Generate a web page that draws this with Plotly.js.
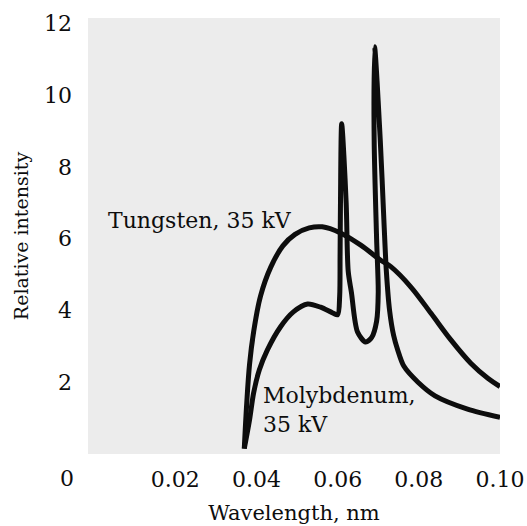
<!DOCTYPE html>
<html>
<head>
<meta charset="utf-8">
<script src="https://cdn.plot.ly/plotly-3.0.1.min.js"></script>
<style>
  html, body { margin: 0; padding: 0; background: #ffffff; }
  #chart { width: 527px; height: 526px; }
</style>
</head>
<body>
<div id="chart"></div>
<script>
// Wavelength (nm) and relative intensity
const tungstenWavelength = [0.0370, 0.0376, 0.0383, 0.0393, 0.0410, 0.0435, 0.0465, 0.0495, 0.0530, 0.0562, 0.0607, 0.0657, 0.0706, 0.0731, 0.0780, 0.0830, 0.0879, 0.0928, 0.0970, 0.1000];
const tungstenIntensity  = [0.15,   1.40,   2.50,   3.40,   4.40,   5.20,   5.80,   6.12,   6.30,   6.33,   6.16,   5.82,   5.40,   5.22,   4.66,   3.92,   3.18,   2.53,   2.11,   1.88];

const molybdenumWavelength = [0.0370, 0.0383, 0.0393, 0.0407, 0.0427, 0.0459, 0.0491, 0.0526, 0.0558, 0.0588, 0.0600, 0.0605, 0.0606, 0.0607, 0.0610, 0.0621, 0.0626, 0.0634, 0.0649, 0.0669, 0.0684, 0.0696, 0.0700, 0.0696, 0.0690, 0.0691, 0.0705, 0.0714, 0.0720, 0.0728, 0.0738, 0.0748, 0.0763, 0.0798, 0.0840, 0.0920, 0.1000];
const molybdenumIntensity  = [0.15,   0.95,   1.70,   2.34,   2.90,   3.54,   3.96,   4.18,   4.09,   3.93,   3.88,   4.40,   5.50,   7.00,   9.20,   7.00,   5.10,   4.50,   3.40,   3.12,   3.25,   3.70,   4.50,   6.00,   8.75,   11.35,  8.75,   6.50,   5.10,   4.00,   3.30,   2.90,   2.45,   2.00,   1.62,   1.25,   1.02];

const xTickValues = [0.02, 0.04, 0.06, 0.08, 0.10];
const xTickLabels = ['0.02', '0.04', '0.06', '0.08', '0.10'];
const yTickValues = [2, 4, 6, 8, 10, 12];
const yTickLabels = ['2', '4', '6', '8', '10', '12'];
const originLabel = '0';

const seriesNames = ['Tungsten, 35 kV', 'Molybdenum,<br>35 kV'];

const SERIF = '"DejaVu Serif", "Liberation Serif", serif';
const INK = '#0d0d0d';

const traces = [
  {
    x: tungstenWavelength, y: tungstenIntensity,
    type: 'scatter', mode: 'lines', name: 'Tungsten',
    line: { color: INK, width: 5, shape: 'spline', smoothing: 1.0 },
    hoverinfo: 'skip'
  },
  {
    x: molybdenumWavelength, y: molybdenumIntensity,
    type: 'scatter', mode: 'lines', name: 'Molybdenum',
    line: { color: INK, width: 5, shape: 'spline', smoothing: 0.8 },
    hoverinfo: 'skip'
  }
];

const layout = {
  width: 527, height: 526,
  margin: { l: 88, r: 27, t: 18, b: 72 },
  paper_bgcolor: '#ffffff',
  plot_bgcolor: '#ececec',
  showlegend: false,
  font: { family: SERIF, color: INK },
  xaxis: {
    range: [-0.0015, 0.1],
    tickvals: xTickValues, ticktext: xTickLabels,
    showgrid: false, zeroline: false, showline: false, ticks: '',
    ticklabelstandoff: 10,
    tickfont: { family: SERIF, size: 22, color: INK },
    title: { text: 'Wavelength, nm', font: { family: SERIF, size: 21, color: INK }, standoff: 14 }
  },
  yaxis: {
    range: [0, 12.15],
    tickvals: yTickValues, ticktext: yTickLabels,
    showgrid: false, zeroline: false, showline: false, ticks: '',
    ticklabelstandoff: 15,
    tickfont: { family: SERIF, size: 22, color: INK },
    title: { text: 'Relative intensity', font: { family: SERIF, size: 19, color: INK }, standoff: 10 }
  },
  annotations: [
    {
      text: seriesNames[0], xref: 'x', yref: 'y', x: 0.0030, y: 6.5,
      xanchor: 'left', yanchor: 'middle', showarrow: false,
      font: { family: SERIF, size: 22, color: INK }
    },
    {
      text: seriesNames[1], xref: 'x', yref: 'y', x: 0.0412, y: 1.22,
      xanchor: 'left', yanchor: 'middle', align: 'left', showarrow: false,
      font: { family: SERIF, size: 22, color: INK }
    },
    {
      text: originLabel, xref: 'paper', yref: 'paper', x: -0.051, y: -0.057,
      xanchor: 'center', yanchor: 'middle', showarrow: false,
      font: { family: SERIF, size: 22, color: INK }
    }
  ]
};

Plotly.newPlot('chart', traces, layout, { displayModeBar: false, staticPlot: true });
</script>
</body>
</html>
